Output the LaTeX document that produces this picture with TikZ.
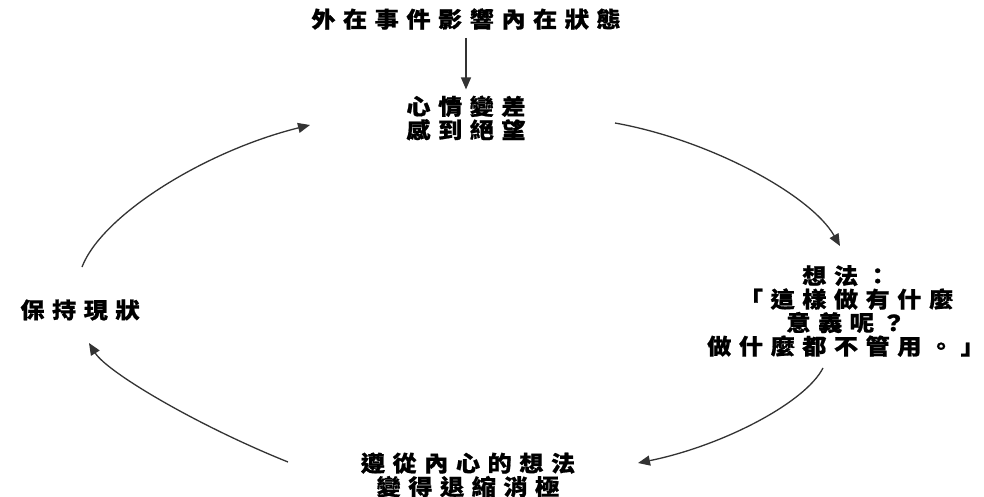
\documentclass[tikz,border=0pt]{standalone}
\usepackage{fontspec}
\newfontfamily\cjk{Noto Sans CJK TC}[LetterSpace=34,FakeStretch=1.1,FakeBold=0.8]
\usetikzlibrary{arrows.meta}
\definecolor{linegray}{HTML}{333333}
\tikzset{
  lbl/.style={font=\cjk\bfseries\fontsize{22}{23.5}\selectfont, align=center, inner sep=0pt, text=black},
  arr/.style={draw=linegray, line width=1.3pt, -{Triangle[length=12pt,width=10pt]}}
}
\begin{document}
\begin{tikzpicture}[x=1pt,y=-1pt]
\useasboundingbox[fill=white] (0,0) rectangle (984,497);
\node[lbl] (top) at (466,19) {外在事件影響內在狀態};
\node[lbl] (mood) at (466,118) {心情變差\\感到絕望};
\node[lbl] (thought) at (846,311) {想法：\\「這樣做有什麼\\意義呢？\\做什麼都不管用。」};
\node[lbl] (act) at (468,475) {遵從內心的想法\\變得退縮消極};
\node[lbl] (keep) at (80,310) {保持現狀};
\coordinate (a1s) at (615,123);
\coordinate (a1e) at (840,246);
\coordinate (a2s) at (823,368);
\coordinate (a2e) at (638,463);
\coordinate (a3s) at (288,462);
\coordinate (a3e) at (89,343);
\coordinate (a4s) at (82,267);
\coordinate (a4e) at (310,125);
\draw[arr, shorten <=8pt, shorten >=6pt] (top) -- (mood);
\draw[arr] (a1s) .. controls (710,140) and (811,195) .. (a1e);
\draw[arr] (a2s) .. controls (805,403) and (722,446) .. (a2e);
\draw[arr] (a3s) .. controls (196,425) and (107,372) .. (a3e);
\draw[arr] (a4s) .. controls (102,215) and (205,151) .. (a4e);
\end{tikzpicture}
\end{document}
